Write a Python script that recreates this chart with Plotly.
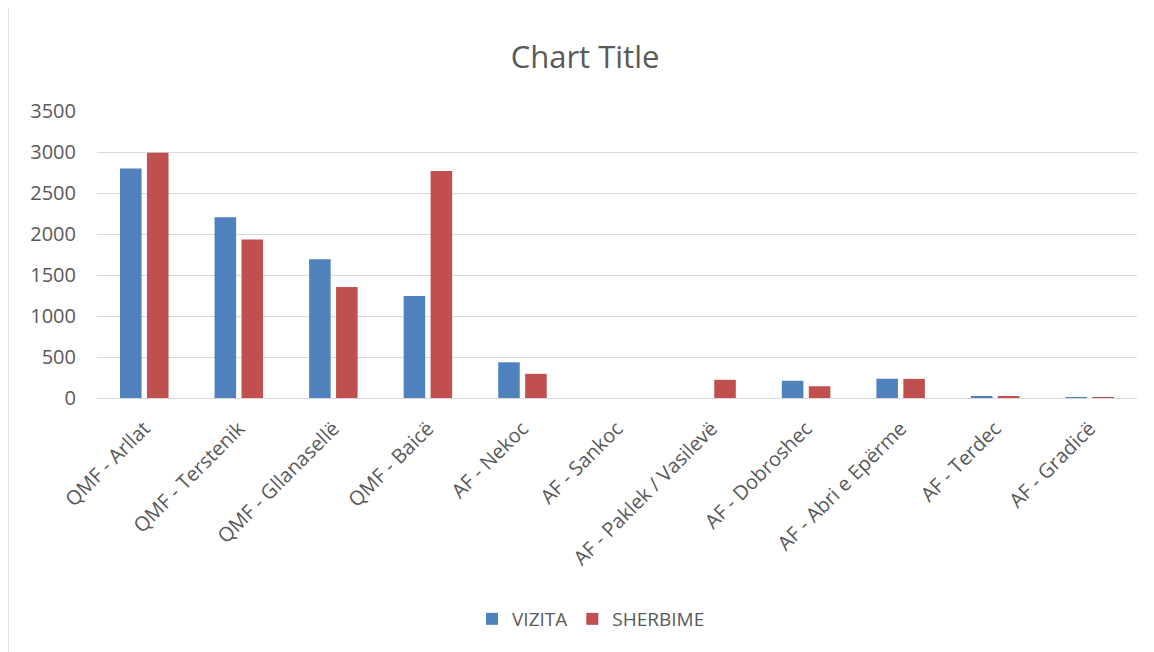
import plotly.graph_objects as go

categories = [
    "QMF - Arllat", "QMF - Terstenik", "QMF - Gllanasellë", "QMF - Baicë",
    "AF - Nekoc", "AF - Sankoc", "AF - Paklek / Vasilevë", "AF - Dobroshec",
    "AF - Abri e Epërme", "AF - Terdec", "AF - Gradicë",
]
vizita = [2800, 2205, 1692, 1245, 435, 0, 0, 210, 235, 25, 12]
sherbime = [2990, 1932, 1355, 2768, 295, 0, 222, 143, 233, 20, 10]
y_ticks = [0, 500, 1000, 1500, 2000, 2500, 3000, 3500]

text_color = "#595959"
grid_color = "#d9d9d9"

fig = go.Figure()
fig.add_trace(go.Bar(x=categories, y=vizita, name="VIZITA",
                     marker=dict(color="#4f81bd", line=dict(width=0))))
fig.add_trace(go.Bar(x=categories, y=sherbime, name="SHERBIME",
                     marker=dict(color="#c0504d", line=dict(width=0))))

# page body has an 8px margin, so the figure itself is shifted by 8px
fig.update_layout(
    width=1154, height=652,
    margin=dict(l=89, r=25, t=103, b=262),
    paper_bgcolor="white", plot_bgcolor="white",
    font=dict(family="Open Sans", color=text_color, size=18),
    title=dict(text="Chart Title", x=0.5, xanchor="center", y=0.925, yanchor="middle",
               font=dict(size=31, color=text_color)),
    barmode="group", bargap=0.43, bargroupgap=0.2,
    legend=dict(orientation="h", x=0.475, xanchor="center", y=-0.77, yanchor="middle",
                font=dict(size=19, color=text_color), itemwidth=30),
    showlegend=True,
)
fig.update_xaxes(tickangle=-45, showgrid=False, showline=True, linecolor=grid_color,
                 linewidth=1, ticks="", ticklabelstandoff=10, automargin=False,
                 tickfont=dict(size=20, color=text_color))
fig.update_yaxes(range=[0, 3500], tickvals=y_ticks, showgrid=True, gridcolor=grid_color,
                 gridwidth=1, zeroline=False, showline=False, ticks="",
                 ticklabelstandoff=20, automargin=False,
                 tickfont=dict(size=20, color=text_color))

# outer chart border
fig.add_shape(type="rect", xref="paper", yref="paper",
              x0=-0.0856, x1=1.0106, y0=-1.0, y1=1.5,
              line=dict(color=grid_color, width=1.5), layer="below")

fig.write_html("out.html")
